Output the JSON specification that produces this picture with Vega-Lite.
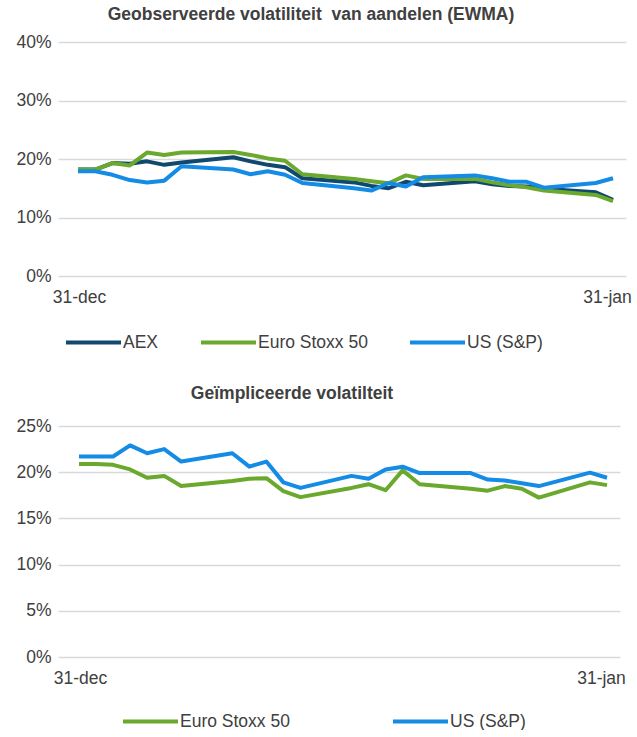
{
  "$schema": "https://vega.github.io/schema/vega-lite/v6.json",
  "background": "white",
  "padding": {"top": 5, "left": 15, "right": 5, "bottom": 0},
  "spacing": 33,
  "config": {
    "font": "Liberation Sans",
    "view": {"stroke": null},
    "title": {"fontSize": 17.5, "fontWeight": "bold", "color": "#404040", "anchor": "middle"},
    "axis": {"labelFont": "Liberation Sans", "labelFontSize": 17.5, "labelColor": "#404040", "ticks": false, "domain": false, "title": null},
    "legend": {"labelFont": "Liberation Sans", "labelFontSize": 17.5, "labelColor": "#404040", "symbolType": "stroke", "symbolSize": 3025, "symbolStrokeWidth": 4, "labelOffset": 0, "padding": 0, "title": null}
  },
  "datasets": {
    "top": [
      {"date": "2016-12-31", "series": "AEX", "value": 18.2},
      {"date": "2017-01-01", "series": "AEX", "value": 18.2},
      {"date": "2017-01-02", "series": "AEX", "value": 19.3},
      {"date": "2017-01-03", "series": "AEX", "value": 19.2},
      {"date": "2017-01-04", "series": "AEX", "value": 19.6},
      {"date": "2017-01-05", "series": "AEX", "value": 19.0},
      {"date": "2017-01-06", "series": "AEX", "value": 19.4},
      {"date": "2017-01-09", "series": "AEX", "value": 20.3},
      {"date": "2017-01-10", "series": "AEX", "value": 19.6},
      {"date": "2017-01-11", "series": "AEX", "value": 19.0},
      {"date": "2017-01-12", "series": "AEX", "value": 18.6},
      {"date": "2017-01-13", "series": "AEX", "value": 16.7},
      {"date": "2017-01-16", "series": "AEX", "value": 16.0},
      {"date": "2017-01-17", "series": "AEX", "value": 15.4},
      {"date": "2017-01-18", "series": "AEX", "value": 15.0},
      {"date": "2017-01-19", "series": "AEX", "value": 16.1},
      {"date": "2017-01-20", "series": "AEX", "value": 15.5},
      {"date": "2017-01-23", "series": "AEX", "value": 16.2},
      {"date": "2017-01-24", "series": "AEX", "value": 15.7},
      {"date": "2017-01-25", "series": "AEX", "value": 15.4},
      {"date": "2017-01-26", "series": "AEX", "value": 15.3},
      {"date": "2017-01-27", "series": "AEX", "value": 14.9},
      {"date": "2017-01-30", "series": "AEX", "value": 14.3},
      {"date": "2017-01-31", "series": "AEX", "value": 13.0},
      {"date": "2016-12-31", "series": "Euro Stoxx 50", "value": 18.2},
      {"date": "2017-01-01", "series": "Euro Stoxx 50", "value": 18.2},
      {"date": "2017-01-02", "series": "Euro Stoxx 50", "value": 19.3},
      {"date": "2017-01-03", "series": "Euro Stoxx 50", "value": 18.9},
      {"date": "2017-01-04", "series": "Euro Stoxx 50", "value": 21.1},
      {"date": "2017-01-05", "series": "Euro Stoxx 50", "value": 20.7},
      {"date": "2017-01-06", "series": "Euro Stoxx 50", "value": 21.1},
      {"date": "2017-01-09", "series": "Euro Stoxx 50", "value": 21.2},
      {"date": "2017-01-10", "series": "Euro Stoxx 50", "value": 20.7},
      {"date": "2017-01-11", "series": "Euro Stoxx 50", "value": 20.1},
      {"date": "2017-01-12", "series": "Euro Stoxx 50", "value": 19.7},
      {"date": "2017-01-13", "series": "Euro Stoxx 50", "value": 17.4},
      {"date": "2017-01-16", "series": "Euro Stoxx 50", "value": 16.6},
      {"date": "2017-01-17", "series": "Euro Stoxx 50", "value": 16.2},
      {"date": "2017-01-18", "series": "Euro Stoxx 50", "value": 15.85},
      {"date": "2017-01-19", "series": "Euro Stoxx 50", "value": 17.2},
      {"date": "2017-01-20", "series": "Euro Stoxx 50", "value": 16.6},
      {"date": "2017-01-23", "series": "Euro Stoxx 50", "value": 16.6},
      {"date": "2017-01-24", "series": "Euro Stoxx 50", "value": 16.0},
      {"date": "2017-01-25", "series": "Euro Stoxx 50", "value": 15.5},
      {"date": "2017-01-26", "series": "Euro Stoxx 50", "value": 15.15},
      {"date": "2017-01-27", "series": "Euro Stoxx 50", "value": 14.6},
      {"date": "2017-01-30", "series": "Euro Stoxx 50", "value": 13.85},
      {"date": "2017-01-31", "series": "Euro Stoxx 50", "value": 12.8},
      {"date": "2016-12-31", "series": "US (S&P)", "value": 17.9},
      {"date": "2017-01-01", "series": "US (S&P)", "value": 17.9},
      {"date": "2017-01-02", "series": "US (S&P)", "value": 17.3},
      {"date": "2017-01-03", "series": "US (S&P)", "value": 16.4},
      {"date": "2017-01-04", "series": "US (S&P)", "value": 16.0},
      {"date": "2017-01-05", "series": "US (S&P)", "value": 16.3},
      {"date": "2017-01-06", "series": "US (S&P)", "value": 18.75},
      {"date": "2017-01-09", "series": "US (S&P)", "value": 18.2},
      {"date": "2017-01-10", "series": "US (S&P)", "value": 17.4},
      {"date": "2017-01-11", "series": "US (S&P)", "value": 17.9},
      {"date": "2017-01-12", "series": "US (S&P)", "value": 17.3},
      {"date": "2017-01-13", "series": "US (S&P)", "value": 15.9},
      {"date": "2017-01-16", "series": "US (S&P)", "value": 15.0},
      {"date": "2017-01-17", "series": "US (S&P)", "value": 14.6},
      {"date": "2017-01-18", "series": "US (S&P)", "value": 15.9},
      {"date": "2017-01-19", "series": "US (S&P)", "value": 15.3},
      {"date": "2017-01-20", "series": "US (S&P)", "value": 16.9},
      {"date": "2017-01-23", "series": "US (S&P)", "value": 17.2},
      {"date": "2017-01-24", "series": "US (S&P)", "value": 16.7},
      {"date": "2017-01-25", "series": "US (S&P)", "value": 16.1},
      {"date": "2017-01-26", "series": "US (S&P)", "value": 16.1},
      {"date": "2017-01-27", "series": "US (S&P)", "value": 15.1},
      {"date": "2017-01-30", "series": "US (S&P)", "value": 15.9},
      {"date": "2017-01-31", "series": "US (S&P)", "value": 16.7}
    ],
    "bottom": [
      {"date": "2016-12-31", "series": "Euro Stoxx 50", "value": 20.9},
      {"date": "2017-01-01", "series": "Euro Stoxx 50", "value": 20.9},
      {"date": "2017-01-02", "series": "Euro Stoxx 50", "value": 20.8},
      {"date": "2017-01-03", "series": "Euro Stoxx 50", "value": 20.3},
      {"date": "2017-01-04", "series": "Euro Stoxx 50", "value": 19.4},
      {"date": "2017-01-05", "series": "Euro Stoxx 50", "value": 19.6},
      {"date": "2017-01-06", "series": "Euro Stoxx 50", "value": 18.5},
      {"date": "2017-01-09", "series": "Euro Stoxx 50", "value": 19.05},
      {"date": "2017-01-10", "series": "Euro Stoxx 50", "value": 19.3},
      {"date": "2017-01-11", "series": "Euro Stoxx 50", "value": 19.35},
      {"date": "2017-01-12", "series": "Euro Stoxx 50", "value": 17.95},
      {"date": "2017-01-13", "series": "Euro Stoxx 50", "value": 17.3},
      {"date": "2017-01-16", "series": "Euro Stoxx 50", "value": 18.3},
      {"date": "2017-01-17", "series": "Euro Stoxx 50", "value": 18.7},
      {"date": "2017-01-18", "series": "Euro Stoxx 50", "value": 18.05},
      {"date": "2017-01-19", "series": "Euro Stoxx 50", "value": 20.2},
      {"date": "2017-01-20", "series": "Euro Stoxx 50", "value": 18.7},
      {"date": "2017-01-23", "series": "Euro Stoxx 50", "value": 18.2},
      {"date": "2017-01-24", "series": "Euro Stoxx 50", "value": 18.0},
      {"date": "2017-01-25", "series": "Euro Stoxx 50", "value": 18.5},
      {"date": "2017-01-26", "series": "Euro Stoxx 50", "value": 18.2},
      {"date": "2017-01-27", "series": "Euro Stoxx 50", "value": 17.25},
      {"date": "2017-01-30", "series": "Euro Stoxx 50", "value": 18.9},
      {"date": "2017-01-31", "series": "Euro Stoxx 50", "value": 18.6},
      {"date": "2016-12-31", "series": "US (S&P)", "value": 21.7},
      {"date": "2017-01-01", "series": "US (S&P)", "value": 21.7},
      {"date": "2017-01-02", "series": "US (S&P)", "value": 21.7},
      {"date": "2017-01-03", "series": "US (S&P)", "value": 22.9},
      {"date": "2017-01-04", "series": "US (S&P)", "value": 22.05},
      {"date": "2017-01-05", "series": "US (S&P)", "value": 22.5},
      {"date": "2017-01-06", "series": "US (S&P)", "value": 21.15},
      {"date": "2017-01-09", "series": "US (S&P)", "value": 22.05},
      {"date": "2017-01-10", "series": "US (S&P)", "value": 20.6},
      {"date": "2017-01-11", "series": "US (S&P)", "value": 21.15},
      {"date": "2017-01-12", "series": "US (S&P)", "value": 18.9},
      {"date": "2017-01-13", "series": "US (S&P)", "value": 18.3},
      {"date": "2017-01-16", "series": "US (S&P)", "value": 19.6},
      {"date": "2017-01-17", "series": "US (S&P)", "value": 19.3},
      {"date": "2017-01-18", "series": "US (S&P)", "value": 20.3},
      {"date": "2017-01-19", "series": "US (S&P)", "value": 20.6},
      {"date": "2017-01-20", "series": "US (S&P)", "value": 19.9},
      {"date": "2017-01-23", "series": "US (S&P)", "value": 19.9},
      {"date": "2017-01-24", "series": "US (S&P)", "value": 19.2},
      {"date": "2017-01-25", "series": "US (S&P)", "value": 19.1},
      {"date": "2017-01-26", "series": "US (S&P)", "value": 18.8},
      {"date": "2017-01-27", "series": "US (S&P)", "value": 18.5},
      {"date": "2017-01-30", "series": "US (S&P)", "value": 19.95},
      {"date": "2017-01-31", "series": "US (S&P)", "value": 19.4}
    ]
  },
  "vconcat": [
    {
      "title": {"text": "Geobserveerde volatiliteit\u00a0 van aandelen (EWMA)", "dx": -31, "offset": 10},
      "width": 568,
      "height": 234,
      "data": {"name": "top"},
      "mark": {"type": "line", "strokeWidth": 4, "strokeJoin": "round", "strokeCap": "butt"},
      "encoding": {
        "x": {
          "field": "date", "type": "temporal",
          "scale": {"type": "utc", "domain": [{"year": 2016, "month": 12, "date": 29, "hours": 20, "minutes": 12, "utc": true}, {"year": 2017, "month": 1, "date": 31, "hours": 18, "minutes": 5, "utc": true}]},
          "axis": {
            "values": [{"year": 2016, "month": 12, "date": 31, "utc": true}, {"year": 2017, "month": 1, "date": 31, "utc": true}],
            "labelExpr": "lower(utcFormat(datum.value, '%d-%b'))",
            "grid": false, "labelPadding": 12, "labelFlush": false,
            "labelOffset": {"condition": {"test": "utcmonth(datum.value) == 0", "value": -6}, "value": 1}
          }
        },
        "y": {
          "field": "value", "type": "quantitative",
          "scale": {"domain": [0, 40], "nice": false},
          "axis": {"values": [0, 10, 20, 30, 40], "labelExpr": "datum.value + '%'", "labelPadding": 7, "gridColor": "#D9D9D9", "gridWidth": 1.5}
        },
        "color": {
          "field": "series", "type": "nominal",
          "scale": {"domain": ["AEX", "Euro Stoxx 50", "US (S&P)"], "range": ["#104870", "#6AA82E", "#148CE6"]},
          "legend": {"orient": "none", "direction": "horizontal", "legendX": 6, "legendY": 271, "columnPadding": 34}
        }
      }
    },
    {
      "title": {"text": "Geïmpliceerde volatilteit", "dx": -47, "offset": 15},
      "width": 562,
      "height": 231,
      "data": {"name": "bottom"},
      "mark": {"type": "line", "strokeWidth": 4, "strokeJoin": "round", "strokeCap": "butt"},
      "encoding": {
        "x": {
          "field": "date", "type": "temporal",
          "scale": {"type": "utc", "domain": [{"year": 2016, "month": 12, "date": 29, "hours": 18, "minutes": 24, "utc": true}, {"year": 2017, "month": 1, "date": 31, "hours": 18, "minutes": 18, "utc": true}]},
          "axis": {
            "values": [{"year": 2016, "month": 12, "date": 31, "utc": true}, {"year": 2017, "month": 1, "date": 31, "utc": true}],
            "labelExpr": "lower(utcFormat(datum.value, '%d-%b'))",
            "grid": false, "labelPadding": 12, "labelFlush": false,
            "labelOffset": {"condition": {"test": "utcmonth(datum.value) == 0", "value": -6}, "value": 1}
          }
        },
        "y": {
          "field": "value", "type": "quantitative",
          "scale": {"domain": [0, 25], "nice": false},
          "axis": {"values": [0, 5, 10, 15, 20, 25], "labelExpr": "datum.value + '%'", "labelPadding": 7, "gridColor": "#D9D9D9", "gridWidth": 1.5}
        },
        "color": {
          "field": "series", "type": "nominal",
          "scale": {"domain": ["Euro Stoxx 50", "US (S&P)"], "range": ["#6AA82E", "#148CE6"]},
          "legend": {"orient": "none", "direction": "horizontal", "legendX": 63, "legendY": 266, "columnPadding": 95}
        }
      }
    }
  ],
  "resolve": {"scale": {"color": "independent", "x": "independent", "y": "independent"}, "legend": {"color": "independent"}}
}
